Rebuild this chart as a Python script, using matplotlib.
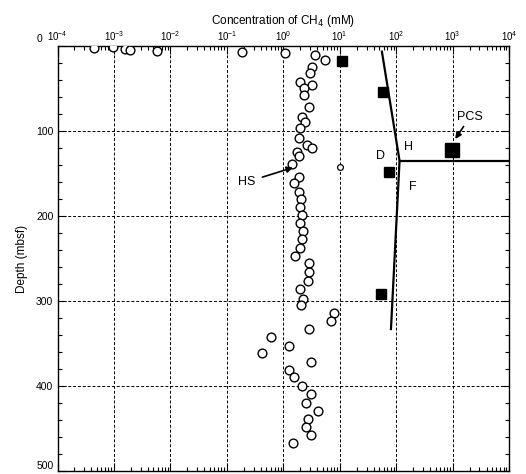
import matplotlib
matplotlib.use("Agg")
import matplotlib.pyplot as plt
from matplotlib.ticker import (LogLocator, LogFormatterMathtext, MultipleLocator,
                               NullFormatter, FuncFormatter, FixedLocator)

plt.rcParams["font.family"] = ["Liberation Sans", "DejaVu Sans"]

# headspace methane (HS), open circles
hs_conc = [4.5e-4, 9.8e-4, 1.6e-3, 1.9e-3, 5.9e-3, 0.185, 1.08,
           3.69, 5.55, 3.22, 3.0, 2.0, 3.22, 2.29, 2.29, 2.81, 2.14, 2.45, 2.0,
           1.87, 2.63, 3.22, 1.75, 1.87, 1.43, 1.87, 1.52, 1.87, 2.06, 2.0,
           2.14, 2.0, 2.23, 2.14, 2.0, 1.63,
           2.89, 2.81, 2.7, 1.95, 2.23, 2.06, 7.79, 7.09, 2.81, 0.605, 1.24,
           0.42, 3.13, 1.24, 1.57, 2.14, 3.13, 2.52, 4.05, 2.7, 2.56, 3.13, 1.49]
hs_depth = [2.0, 0.8, 3.9, 4.7, 5.5, 7.4, 8.2,
            10.6, 16.5, 24.4, 32, 42, 45.9, 49.8, 57.6, 71.4, 83.2, 89, 96.8,
            108.6, 116.5, 120.4, 124.4, 129.4, 138.8, 153.8, 161.5, 171.4, 180.4, 189,
            198.8, 207.9, 217.3, 227.4, 238, 247,
            255.6, 266.2, 276.1, 285.9, 298, 304.7, 313.8, 323.2, 333, 342.7, 352.9,
            361.5, 371.4, 381.2, 389.8, 399.6, 409.4, 419.6, 429, 438.8, 448.6, 457.6, 466.7]

# single small circle near 10 mM
small_conc = [9.95]
small_depth = [142]

# filled squares
sq_conc = [11.0, 58.4, 73.4, 54.5]
sq_depth = [17.6, 53.8, 147.9, 292]

# pressure core sampler (PCS)
pcs_conc = [973]
pcs_depth = [122.4]

# phase boundary line
line_conc = [56, 115, 81]
line_depth = [6.7, 135, 333]
hline_conc = [115, 1e4]
hline_depth = [135, 135]

conc_ticks = [1e-4, 1e-3, 1e-2, 1e-1, 1e0, 1e1, 1e2, 1e3, 1e4]
DEPTH_MIN, DEPTH_MAX = 0, 500

fig = plt.figure(figsize=(5.26, 4.74), dpi=100)
ax = fig.add_axes([57.5 / 526, 3 / 474, (509 - 57.5) / 526, (471 - 46) / 474])

ax.set_xscale("log")
ax.set_xlim(conc_ticks[0], conc_ticks[-1])
ax.set_ylim(DEPTH_MAX, DEPTH_MIN)

grid_kw = dict(color="black", lw=0.7, ls=(0, (3, 2)), zorder=1)
for c in conc_ticks[1:-1]:
    ax.axvline(c, **grid_kw)
for d in range(100, 500, 100):
    ax.axhline(d, **grid_kw)

ax.plot(line_conc, line_depth, color="black", lw=1.6, zorder=2)
ax.plot(hline_conc, hline_depth, color="black", lw=1.6, zorder=2)

ax.plot(hs_conc, hs_depth, "o", ms=6.3, mfc="white", mec="black", mew=1.0, zorder=3)
ax.plot(small_conc, small_depth, "o", ms=4.2, mfc="white", mec="black", mew=0.9, zorder=3)
ax.plot(sq_conc, sq_depth, "s", ms=7.5, color="black", zorder=3)
ax.plot(pcs_conc, pcs_depth, "s", ms=10.5, color="black", zorder=3)

ax.text(164, 118.5, "H", fontsize=9, ha="center", va="center")
ax.text(52, 130, "D", fontsize=9, ha="center", va="center")
ax.text(201, 165.5, "F", fontsize=9, ha="center", va="center")
ax.annotate("PCS", xy=(1115, 109.4), xytext=(2060, 83), fontsize=9,
            ha="center", va="center",
            arrowprops=dict(arrowstyle="-|>", color="black", lw=1.2,
                            shrinkA=1, shrinkB=0, mutation_scale=9))
ax.annotate("HS", xy=(1.49, 143), xytext=(0.227, 160), fontsize=9,
            ha="center", va="center",
            arrowprops=dict(arrowstyle="-|>", color="black", lw=1.2,
                            shrinkA=3, shrinkB=0, mutation_scale=9))

ax.xaxis.set_major_locator(FixedLocator(conc_ticks))
ax.xaxis.set_minor_locator(LogLocator(base=10, subs=range(2, 10), numticks=100))
ax.xaxis.set_major_formatter(LogFormatterMathtext())
ax.xaxis.set_minor_formatter(NullFormatter())
ax.xaxis.tick_top()
ax.xaxis.set_label_position("top")
ax.yaxis.set_major_locator(MultipleLocator(100))
ax.yaxis.set_minor_locator(MultipleLocator(20))
# end labels (0, 500) are placed by hand, raised above their ticks
ax.yaxis.set_major_formatter(
    FuncFormatter(lambda v, p: "" if v in (DEPTH_MIN, DEPTH_MAX) else f"{v:.0f}"))
ytrans = ax.get_yaxis_transform()
ax.annotate(str(DEPTH_MIN), xy=(0, DEPTH_MIN), xycoords=ytrans, xytext=(-11, 1.5),
            textcoords="offset points", ha="right", va="bottom", fontsize=7.5)
ax.annotate(str(DEPTH_MAX), xy=(0, DEPTH_MAX), xycoords=ytrans, xytext=(-3, 0),
            textcoords="offset points", ha="right", va="bottom", fontsize=7.5)

ax.tick_params(which="both", direction="in", top=True, bottom=True, left=True, right=True,
               width=0.8)
ax.tick_params(which="major", length=6)
ax.tick_params(which="minor", length=3)
ax.tick_params(axis="x", pad=2, labelsize=7)
ax.tick_params(axis="y", pad=3, labelsize=7.5)

for s in ax.spines.values():
    s.set_linewidth(1.0)

ax.set_xlabel("Concentration of CH$_4$ (mM)", fontsize=8.5, labelpad=4)
ax.set_ylabel("Depth (mbsf)", fontsize=8.5, labelpad=6)

fig.savefig("out.png", dpi=100)
